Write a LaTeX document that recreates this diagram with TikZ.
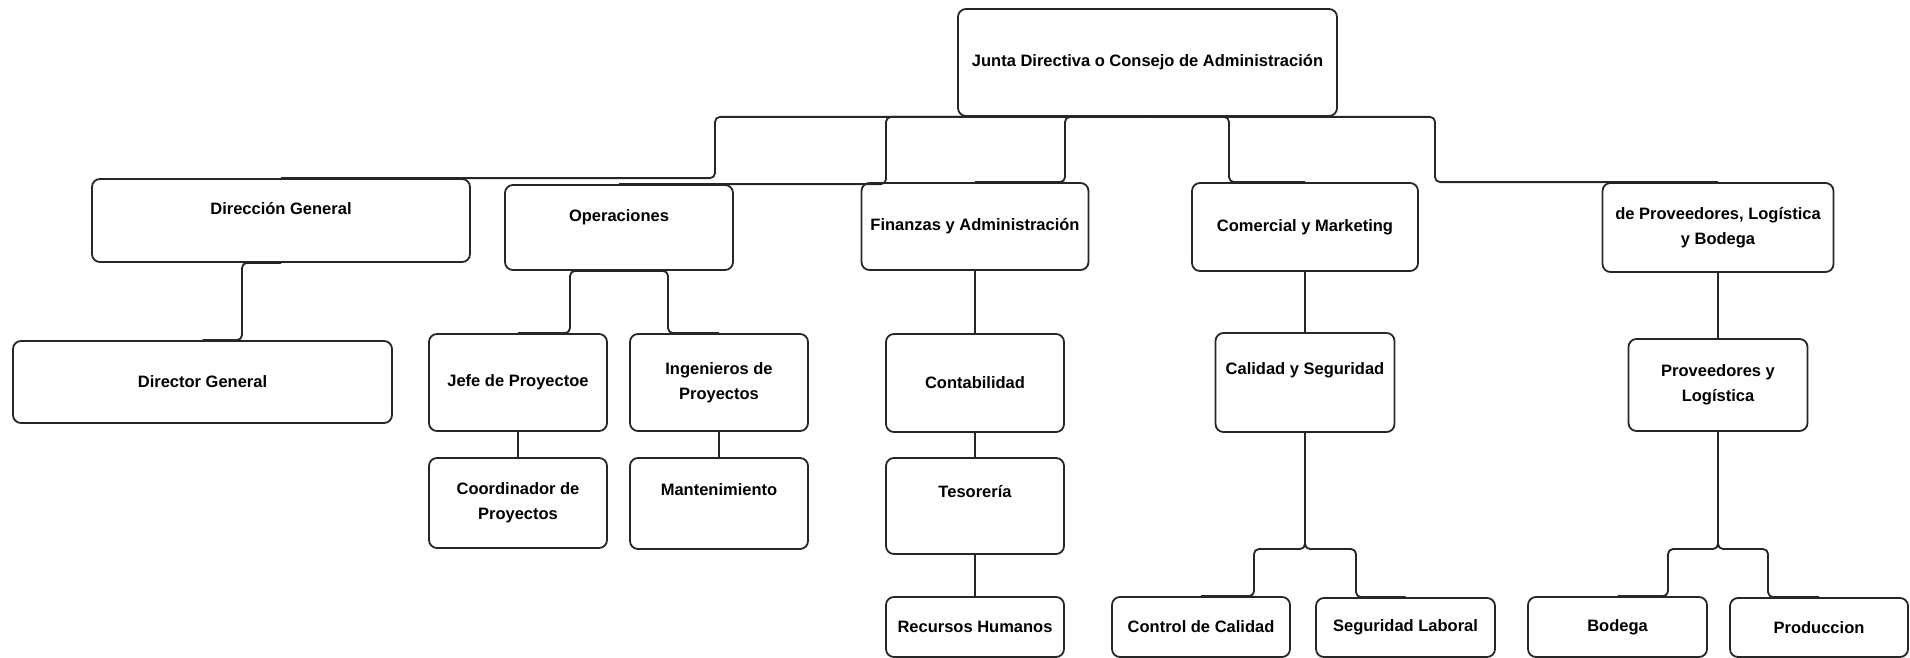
\documentclass[tikz,border=0pt]{standalone}
\usepackage{fontspec}
\setmainfont{Liberation Sans}
\usepackage{tikz}
\tikzstyle{unit}=[draw=black!85,line width=1.8pt,rounded corners=8pt,align=center,inner sep=0pt,font=\fontsize{16.5}{25}\selectfont\bfseries]
\tikzstyle{link}=[draw=black!85,line width=1.8pt,rounded corners=5pt]
\tikzset{boxsize/.style 2 args={minimum width=#1pt,minimum height=#2pt},lift/.style={text depth=#1pt}}

\begin{document}
\begin{tikzpicture}[x=1pt,y=-1pt]
	\useasboundingbox (0,0) rectangle (1910,658);
	% board
	\node[unit,boxsize={379}{107}] (junta) at (1147.5,62.5) {Junta Directiva o Consejo de Administraci\'on};
	% areas
	\node[unit,boxsize={378}{83},lift=24] (dirgen) at (281,220.5) {Direcci\'on General};
	\node[unit,boxsize={228}{85},lift=24] (oper) at (619,227.5) {Operaciones};
	\node[unit,boxsize={227}{87}] (finad) at (975,226.5) {Finanzas y Administraci\'on};
	\node[unit,boxsize={226}{88}] (comer) at (1305,227) {Comercial y Marketing};
	\node[unit,boxsize={231}{89}] (provee) at (1718,227.5) {de Proveedores, Log\'istica\\y Bodega};
	% second level
	\node[unit,boxsize={379}{82}] (director) at (202.5,382) {Director General};
	\node[unit,boxsize={178}{97}] (jefe) at (518,382.5) {Jefe de Proyectoe};
	\node[unit,boxsize={178}{97}] (ingen) at (719,382.5) {Ingenieros de\\Proyectos};
	\node[unit,boxsize={178}{98}] (conta) at (975,383) {Contabilidad};
	\node[unit,boxsize={179}{99},lift=28] (calseg) at (1305,382.5) {Calidad y Seguridad};
	\node[unit,boxsize={179}{92}] (provlog) at (1718,385) {Proveedores y\\Log\'istica};
	% third level
	\node[unit,boxsize={178}{90}] (coord) at (518,503) {Coordinador de\\Proyectos};
	\node[unit,boxsize={178}{91},lift=28] (mant) at (719,503.5) {Mantenimiento};
	\node[unit,boxsize={178}{96},lift=29] (teso) at (975,506) {Tesorer\'ia};
	% bottom row
	\node[unit,boxsize={178}{60}] (rrhh) at (975,627) {Recursos Humanos};
	\node[unit,boxsize={178}{60}] (ctrl) at (1201,627) {Control de Calidad};
	\node[unit,boxsize={179}{59}] (seglab) at (1405.5,627.5) {Seguridad Laboral};
	\node[unit,boxsize={179}{60}] (bodega) at (1617.5,627) {Bodega};
	\node[unit,boxsize={178}{59}] (produc) at (1819,627.5) {Produccion};
	% bends
	\coordinate (b1) at (715,0);
	\coordinate (b2) at (886,0);
	\coordinate (b3) at (1065,0);
	\coordinate (b4) at (1229,0);
	\coordinate (b5) at (1435,0);
	\coordinate (o1) at (570,0);
	\coordinate (o2) at (668,0);
	\coordinate (d1) at (242,0);
	\coordinate (c1) at (1254,549);
	\coordinate (c2) at (1356,549);
	\coordinate (p1) at (1668,549);
	\coordinate (p2) at (1768,549);
	% links
	\draw[link] (junta.south) -- (junta.south -| b1) |- (dirgen.north);
	\draw[link] (junta.south) -- (junta.south -| b2) |- (oper.north);
	\draw[link] (junta.south) -- (junta.south -| b3) |- (finad.north);
	\draw[link] (junta.south) -- (junta.south -| b4) |- (comer.north);
	\draw[link] (junta.south) -- (junta.south -| b5) |- (provee.north);
	\draw[link] (dirgen.south) -- (dirgen.south -| d1) |- (director.north);
	\draw[link] (oper.south) -- (oper.south -| o1) |- (jefe.north);
	\draw[link] (oper.south) -- (oper.south -| o2) |- (ingen.north);
	\draw[link] (jefe) -- (coord);
	\draw[link] (ingen) -- (mant);
	\draw[link] (finad) -- (conta);
	\draw[link] (conta) -- (teso);
	\draw[link] (teso) -- (rrhh);
	\draw[link] (comer) -- (calseg);
	\draw[link] (calseg.south) |- (c1) |- (ctrl.north);
	\draw[link] (calseg.south) |- (c2) |- (seglab.north);
	\draw[link] (provee) -- (provlog);
	\draw[link] (provlog.south) |- (p1) |- (bodega.north);
	\draw[link] (provlog.south) |- (p2) |- (produc.north);
\end{tikzpicture}
\end{document}
